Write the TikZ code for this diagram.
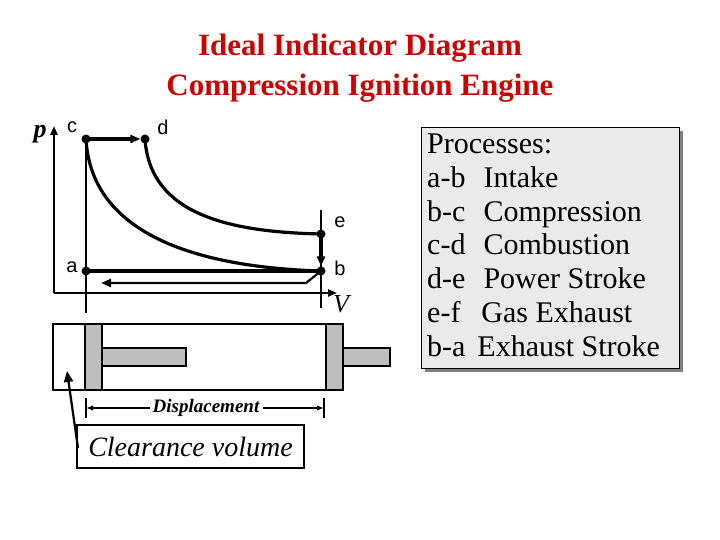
\documentclass[tikz,border=0pt]{standalone}
\usepackage{fontspec}
\setmainfont{Liberation Serif}
\newfontfamily\arialf{Liberation Sans}
\usetikzlibrary{arrows.meta}
\definecolor{titlered}{RGB}{204,0,0}
\definecolor{pgray}{RGB}{190,190,190}
\definecolor{lgray}{RGB}{234,234,234}
\begin{document}
\begin{tikzpicture}[x=1pt,y=-1pt,
  thick line/.style={line width=3.2pt},
  axis/.style={line width=2.2pt,-{Triangle[length=9pt,width=7pt]}},
  pt/.style={circle,fill=black,inner sep=0pt,minimum size=9pt},
  lab/.style={font=\arialf\fontsize{20}{20}\selectfont},
  part/.style={draw=black,line width=1.8pt,fill=pgray}]
\useasboundingbox (0,0) rectangle (720,540);
% title
\node[text=titlered,font=\bfseries\fontsize{31}{40}\selectfont,align=center] (title) at (360,68) {Ideal Indicator Diagram\\Compression Ignition Engine};
% axes
\coordinate (o) at (54,293);
\coordinate (ptop) at (54,126);
\coordinate (vend) at (337,293);
\draw[axis] (o) -- (ptop);
\draw[axis] (o) -- (vend);
\node[font=\bfseries\itshape\fontsize{26}{26}\selectfont] (p) at (40,134) {p};
\node[font=\itshape\fontsize{26}{26}\selectfont] (V) at (341,304) {V};
% points
\node[pt] (c) at (86,139) {};
\node[pt] (d) at (145,139) {};
\node[pt] (e) at (321,234) {};
\node[pt] (b) at (321,271) {};
\node[pt] (a) at (86,271) {};
\node[lab] at (72,127) {c};
\node[lab] at (163,127) {d};
\node[lab] at (340,222) {e};
\node[lab] at (340,268) {b};
\node[lab] at (72,267) {a};
% guide lines
\coordinate (g1) at (86,313);
\coordinate (g2t) at (321,210);
\coordinate (g2b) at (321,308);
\draw[line width=1.4pt] (c.center) -- (g1);
\draw[line width=1.4pt] (g2t) -- (g2b);
% process lines
\draw[thick line] (a.center) -- (b.center);
\draw[thick line,-{Triangle[length=10pt,width=8pt]}] (c.center) -- (d.west);
\draw[thick line,-{Triangle[length=10pt,width=8pt]}] (e.center) -- (b.north);
\draw[thick line] (b.center) .. controls (160,266) and (90,215) .. (c.center);
\draw[thick line] (d.center) .. controls (150,215) and (230,232) .. (e.center);
\coordinate (r1) at (306,283);
\coordinate (r2) at (101,283);
\draw[line width=2.2pt,-{Triangle[length=10pt,width=8pt]}] (b.center) -- (r1) -- (r2);
% cylinder
\draw[line width=2.4pt,fill=white] (53,324) rectangle (326,390);
\draw[part] (102,348) rectangle (186,366);
\draw[part] (85,324) rectangle (102,390);
\draw[part] (343,348) rectangle (390,366);
\draw[part] (326,324) rectangle (343,390);
% displacement
\coordinate (dl) at (86,408);
\coordinate (dr) at (324,408);
\draw[line width=1.2pt] (86,398) -- (86,418);
\draw[line width=1.2pt] (324,398) -- (324,418);
\node[font=\bfseries\itshape\fontsize{19}{19}\selectfont,fill=white,inner sep=3pt] (disp) at (206,408) {Displacement};
\draw[line width=1.2pt,-{Latex[length=7pt]}] (disp) -- (dl);
\draw[line width=1.2pt,-{Latex[length=7pt]}] (disp) -- (dr);
% clearance
\node[draw,line width=2.4pt,minimum width=227pt,minimum height=43pt,font=\itshape\fontsize{28}{28}\selectfont] (cl) at (190.5,446.5) {Clearance volume};
\coordinate (clt) at (67,371);
\draw[line width=2.2pt,-{Triangle[length=11pt,width=9pt]}] (78,448) -- (clt);
% legend
\fill[gray] (425,131) rectangle (683,372);
\node[draw,line width=1pt,fill=lgray,minimum width=258pt,minimum height=241pt,anchor=north west] (leg) at (421,127) {};
\node[anchor=north west,align=left,font=\fontsize{30}{33.7}\selectfont,inner sep=0pt] (legt) at (427,134) {Processes:\\
a-b\hspace{0.6em}Intake\\
b-c\hspace{0.6em}Compression\\
c-d\hspace{0.6em}Combustion\\
d-e\hspace{0.6em}Power Stroke\\
e-f\hspace{0.7em}Gas Exhaust\\
b-a\hspace{0.4em}Exhaust Stroke};
\end{tikzpicture}
\end{document}
